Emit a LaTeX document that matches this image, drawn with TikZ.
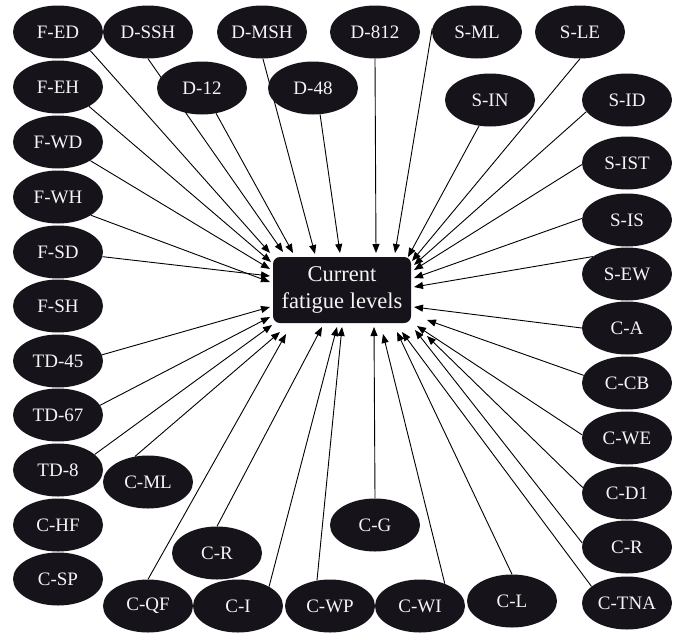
\documentclass[tikz,border=0pt]{standalone}
\usepackage{fontspec}
\setmainfont{Liberation Serif}
\usetikzlibrary{arrows.meta,shapes.geometric,calc}
\definecolor{nodefill}{RGB}{22,19,27}
\definecolor{nodetext}{RGB}{245,245,245}
\pgfdeclarelayer{edges}
\pgfsetlayers{edges,main}
\begin{document}
\begin{tikzpicture}[x=1pt,y=-1pt,
  factor/.style={ellipse,fill=nodefill,minimum width=90pt,minimum height=53pt,
    inner sep=0pt,text=nodetext,font=\fontsize{19}{22}\selectfont},
  outcome/.style={rectangle,rounded corners=7pt,fill=nodefill,minimum width=138pt,
    minimum height=66pt,inner sep=0pt,text=nodetext,align=center,
    font=\fontsize{22.5}{27}\selectfont},
  link/.style={draw=black,line width=0.9pt,-{Triangle[length=9pt,width=7pt]}}]
\useasboundingbox (0,0) rectangle (677,632);

% central outcome
\node[outcome] (cfl) at (342,290) {Current\\fatigue levels};

% left column
\node[factor] (fed)  at (58,32)  {F-ED};
\node[factor] (feh)  at (58,87)  {F-EH};
\node[factor] (fwd)  at (58,142) {F-WD};
\node[factor] (fwh)  at (58,197) {F-WH};
\node[factor] (fsd)  at (58,252) {F-SD};
\node[factor] (fsh)  at (58,306) {F-SH};
\node[factor] (td45) at (58,361) {TD-45};
\node[factor] (td67) at (58,415) {TD-67};
\node[factor] (td8)  at (58,470) {TD-8};
\node[factor] (chf)  at (58,525) {C-HF};
\node[factor] (csp)  at (58,579) {C-SP};

% top rows
\node[factor] (dssh) at (148,32)  {D-SSH};
\node[factor] (dmsh) at (262,32)  {D-MSH};
\node[factor] (d812) at (375,32)  {D-812};
\node[factor] (sml)  at (477,32)  {S-ML};
\node[factor] (sle)  at (580,32)  {S-LE};
\node[factor] (d12)  at (202,88)  {D-12};
\node[factor] (d48)  at (313,88)  {D-48};
\node[factor] (sin)  at (490,100) {S-IN};

% right column
\node[factor] (sid)  at (627,100) {S-ID};
\node[factor] (sist) at (627,163) {S-IST};
\node[factor] (sis)  at (627,220) {S-IS};
\node[factor] (sew)  at (627,274) {S-EW};
\node[factor] (ca)   at (627,328) {C-A};
\node[factor] (ccb)  at (627,383) {C-CB};
\node[factor] (cwe)  at (627,438) {C-WE};
\node[factor] (cdone) at (627,493) {C-D1};
\node[factor] (crr)  at (627,547) {C-R};
\node[factor] (ctna) at (627,603) {C-TNA};

% bottom area
\node[factor] (cml)  at (148,482) {C-ML};
\node[factor] (crl)  at (217,553) {C-R};
\node[factor] (cg)   at (375,525) {C-G};
\node[factor] (cqf)  at (148,606) {C-QF};
\node[factor] (ci)   at (238,606) {C-I};
\node[factor] (cwp)  at (330,606) {C-WP};
\node[factor] (cwi)  at (420,606) {C-WI};
\node[factor] (cl)   at (512,601) {C-L};

% edges into the outcome: source/border angle/offset of the tip from the box centre
\begin{pgfonlayer}{edges}
\foreach \src/\ang/\dx/\dy in {
  fed/-30/-72/-37, feh/-32/-71/-28, fwd/-30/-72/-21, fwh/-29/-72/-8,
  fsd/-6/-72/-14, td45/8/-72/17, td67/13/-72/27, td8/23/-70/35,
  cml/117/-62/42, cqf/90/-56/44, crl/90/-20/37, ci/32/-5/37,
  cwp/117/0/37, cg/90/32/37, cwi/42/41/44, cl/90/55/42,
  ctna/155/60/42, crr/175/73/40, cdone/173/85/46, cwe/176/75/36,
  ccb/170/85/30, ca/180/72/17, sew/153/72/-3, sis/178/72/-12,
  sist/-178/72/-20, sid/-164/72/-25, sle/-90/70/-29, sin/-113/66/-33,
  sml/175/53/-37, d812/-90/34/-37, d48/-75/-2/-37, dmsh/-88/-27/-36,
  d12/-61/-49/-37, dssh/-90/-59/-38}
  \draw[link] (\src.\ang) -- ($(cfl.center)+(\dx,\dy)$);
\end{pgfonlayer}
\end{tikzpicture}
\end{document}
